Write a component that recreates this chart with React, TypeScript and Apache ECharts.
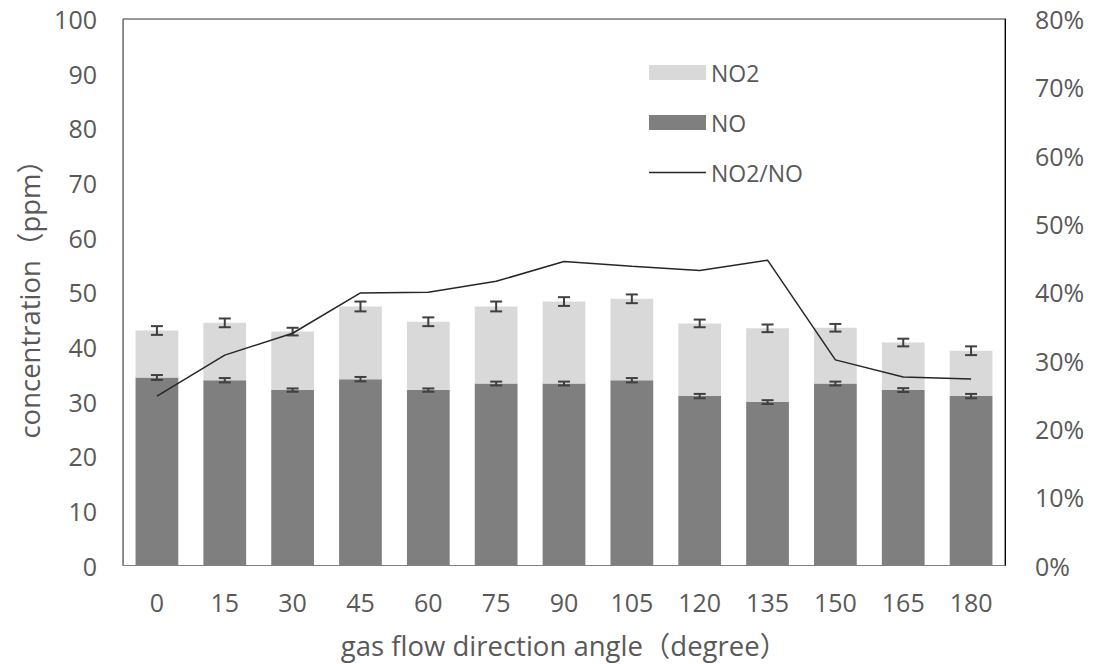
import React, { useEffect, useRef } from "react";
import * as echarts from "echarts";

const categories = ["0", "15", "30", "45", "60", "75", "90", "105", "120", "135", "150", "165", "180"];
const noValues = [34.4, 33.9, 32.1, 34.1, 32.1, 33.3, 33.3, 33.9, 31.0, 29.9, 33.3, 32.1, 31.0];
const no2Values = [8.6, 10.5, 10.7, 13.3, 12.5, 14.1, 15.0, 14.9, 13.3, 13.5, 10.2, 8.7, 8.3];
const noErr = [0.45, 0.4, 0.3, 0.4, 0.3, 0.35, 0.35, 0.4, 0.4, 0.35, 0.35, 0.35, 0.4];
const no2Err = [0.8, 0.8, 0.7, 0.9, 0.8, 0.9, 0.8, 0.8, 0.7, 0.7, 0.7, 0.7, 0.8];
const ratioValues = [24.8, 30.8, 34.0, 39.9, 40.0, 41.6, 44.5, 43.8, 43.2, 44.7, 30.1, 27.6, 27.3];
const leftTicks = { min: 0, max: 100, interval: 10 };
const rightTicks = { min: 0, max: 80, interval: 10 };

const FONT = "'Open Sans', 'Noto Sans CJK SC', sans-serif";
const TXT = "#595959";

export default function App() {
  const ref = useRef<HTMLDivElement>(null);
  useEffect(() => {
    if (!ref.current) return;
    const chart = echarts.init(ref.current, undefined, { renderer: "svg" });
    const errData: number[][] = [];
    categories.forEach((_, i) => {
      errData.push([i, noValues[i], noErr[i]]);
      errData.push([i, noValues[i] + no2Values[i], no2Err[i]]);
    });
    chart.setOption({
      animation: false,
      backgroundColor: "#fff",
      textStyle: { fontFamily: FONT },
      grid: {
        left: 123,
        right: 91,
        top: 19,
        bottom: 96,
        show: true,
        borderColor: "#303030",
        borderWidth: 1,
        containLabel: false,
      },
      legend: {
        orient: "vertical",
        left: 644,
        top: 56,
        itemWidth: 57,
        itemHeight: 15,
        itemGap: 27,
        textStyle: { fontSize: 23, color: TXT, fontFamily: FONT },
        data: [
          { name: "NO2", icon: "rect" },
          { name: "NO", icon: "rect" },
          { name: "NO2/NO", icon: "path://M0 0H57V1.6H0Z" },
        ],
      },
      xAxis: {
        type: "category",
        data: categories,
        name: "gas flow direction angle（degree）",
        nameLocation: "middle",
        nameGap: 66,
        nameTextStyle: { fontSize: 27.5, color: TXT, fontFamily: FONT },
        axisLine: { show: true, lineStyle: { color: "#808080" } },
        axisTick: { show: false },
        axisLabel: { fontSize: 25, color: TXT, margin: 24, fontFamily: FONT },
      },
      yAxis: [
        {
          type: "value",
          min: leftTicks.min,
          max: leftTicks.max,
          interval: leftTicks.interval,
          name: "concentration（ppm）",
          nameLocation: "middle",
          nameGap: 77,
          nameTextStyle: { fontSize: 27.5, color: TXT, fontFamily: FONT },
          axisLine: { show: true, lineStyle: { color: "#808080" } },
          axisTick: { show: false },
          splitLine: { show: false },
          axisLabel: { fontSize: 25, color: TXT, margin: 26, fontFamily: FONT },
        },
        {
          type: "value",
          min: rightTicks.min,
          max: rightTicks.max,
          interval: rightTicks.interval,
          position: "right",
          axisLine: { show: true, lineStyle: { color: "#000" } },
          axisTick: { show: false },
          splitLine: { show: false },
          axisLabel: {
            fontSize: 25,
            color: TXT,
            margin: 30,
            fontFamily: FONT,
            formatter: (v: number) => `${v}%`,
          },
        },
      ],
      series: [
        {
          name: "NO",
          type: "bar",
          stack: "total",
          data: noValues,
          barWidth: "63%",
          itemStyle: { color: "#7f7f7f" },
        },
        {
          name: "NO2",
          type: "bar",
          stack: "total",
          data: no2Values,
          barWidth: "63%",
          itemStyle: { color: "#d9d9d9" },
        },
        {
          name: "err",
          type: "custom",
          data: errData,
          z: 10,
          renderItem: (params: any, api: any) => {
            const x = api.value(0);
            const v = api.value(1);
            const e = api.value(2);
            const hi = api.coord([x, v + e]);
            const lo = api.coord([x, v - e]);
            const half = 6;
            const style = { stroke: "#404040", lineWidth: 2 };
            return {
              type: "group",
              children: [
                { type: "line", shape: { x1: hi[0], y1: hi[1], x2: lo[0], y2: lo[1] }, style },
                { type: "line", shape: { x1: hi[0] - half, y1: hi[1], x2: hi[0] + half, y2: hi[1] }, style },
                { type: "line", shape: { x1: lo[0] - half, y1: lo[1], x2: lo[0] + half, y2: lo[1] }, style },
              ],
            };
          },
        },
        {
          name: "NO2/NO",
          type: "line",
          yAxisIndex: 1,
          data: ratioValues,
          symbol: "none",
          lineStyle: { color: "#262626", width: 1.5 },
          itemStyle: { color: "#262626" },
          z: 11,
        },
      ],
    });
    return () => chart.dispose();
  }, []);
  return (
    <div
      ref={ref}
      style={{ position: "absolute", left: 0, top: 0, width: 1096, height: 664 }}
    />
  );
}
